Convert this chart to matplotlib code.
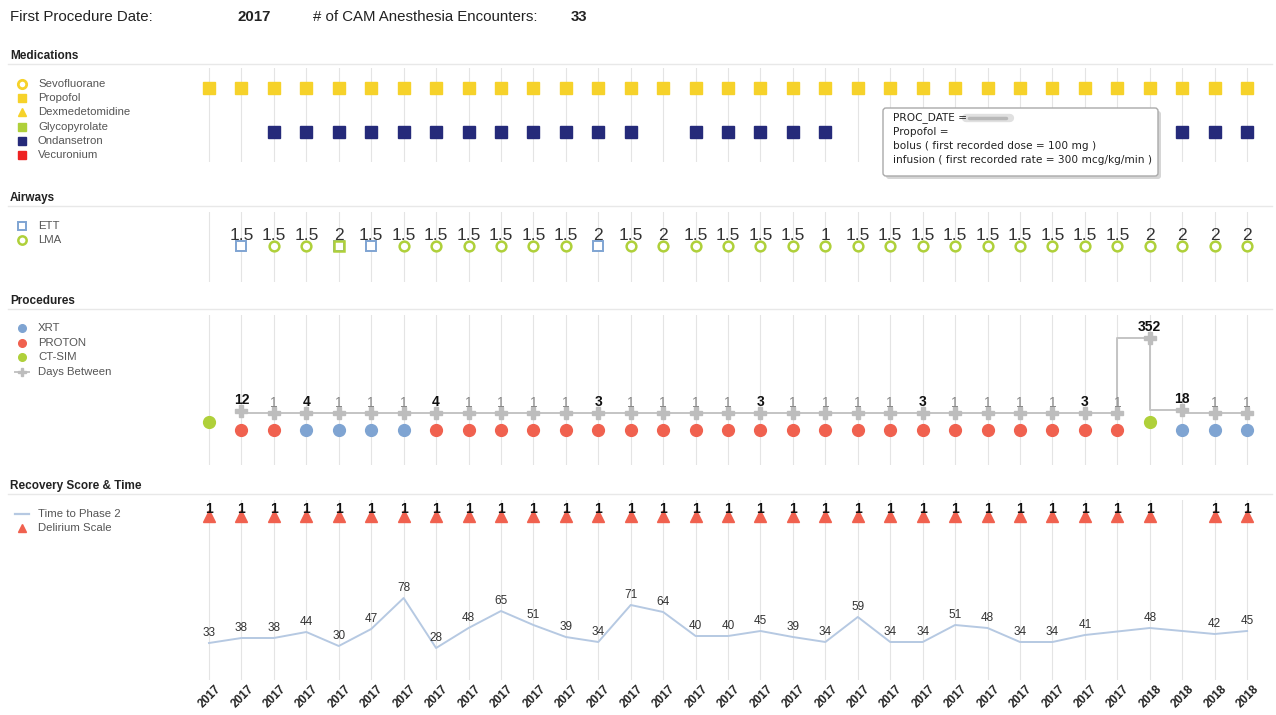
import matplotlib
matplotlib.use("Agg")
import matplotlib.pyplot as plt
from matplotlib.patches import FancyBboxPatch
from matplotlib.transforms import ScaledTranslation

plt.rcParams['font.family'] = ['Liberation Sans', 'DejaVu Sans']

# ---- data ----
years = ['2017'] * 29 + ['2018'] * 4
n = len(years)

propofol_cols = list(range(33))
ondansetron_cols = [2, 3, 4, 5, 6, 7, 8, 9, 10, 11, 12, 13, 15, 16, 17, 18, 19, 30, 31, 32]

airway_cols = list(range(1, 33))
airway_size = [1.5, 1.5, 1.5, 2, 1.5, 1.5, 1.5, 1.5, 1.5, 1.5, 1.5, 2, 1.5, 2, 1.5, 1.5,
               1.5, 1.5, 1, 1.5, 1.5, 1.5, 1.5, 1.5, 1.5, 1.5, 1.5, 1.5, 2, 2, 2, 2]
airway_type = ['ETT', 'LMA', 'LMA', 'ETT+LMA', 'ETT', 'LMA', 'LMA', 'LMA', 'LMA', 'LMA', 'LMA',
               'ETT', 'LMA', 'LMA', 'LMA', 'LMA', 'LMA', 'LMA', 'LMA', 'LMA', 'LMA', 'LMA',
               'LMA', 'LMA', 'LMA', 'LMA', 'LMA', 'LMA', 'LMA', 'LMA', 'LMA', 'LMA']

proc_type = ['CT-SIM', 'PROTON', 'PROTON', 'XRT', 'XRT', 'XRT', 'XRT'] + ['PROTON'] * 22 + \
            ['CT-SIM', 'XRT', 'XRT', 'XRT']
days_cols = list(range(1, 33))
days_between = [12, 1, 4, 1, 1, 1, 4, 1, 1, 1, 1, 3, 1, 1, 1, 1, 3, 1, 1, 1, 1, 3,
                1, 1, 1, 1, 3, 1, 352, 18, 1, 1]

phase2_time = [33, 38, 38, 44, 30, 47, 78, 28, 48, 65, 51, 39, 34, 71, 64, 40, 40, 45,
               39, 34, 59, 34, 34, 51, 48, 34, 34, 41, None, 48, None, 42, 45]
delirium = [1] * 30 + [None, 1, 1]

# ---- layout helpers ----
W, H = 1276, 715
fig = plt.figure(figsize=(W / 100, H / 100), dpi=100)
S = 32.44          # pixel spacing between encounters
X0 = 209           # pixel x of first encounter
PL, PR = 190, 1266
grid_c = '#e4e4e4'


def panel(top, bottom):
    ax = fig.add_axes([PL / W, 1 - bottom / H, (PR - PL) / W, (bottom - top) / H])
    ax.set_xlim((PL - X0) / S, (PR - X0) / S)
    ax.set_xticks(range(n))
    ax.set_yticks([])
    ax.grid(axis='x', color=grid_c, lw=0.8)
    ax.set_axisbelow(True)
    ax.tick_params(length=0, labelbottom=False)
    for s in ax.spines.values():
        s.set_visible(False)
    ax.patch.set_alpha(0)
    return ax


YELLOW = '#f6d22a'
NAVY = '#252a7a'
RED = '#f0614f'
BLUE = '#7fa4d2'
GREEN = '#afd03a'
GRAY = '#c4c4c4'

# ---- Medications ----
axm = panel(68, 162)
axm.set_ylim(6.05, -0.36)
axm.plot(propofol_cols, [1] * len(propofol_cols), 's', ms=8.5, color=YELLOW, ls='none')
axm.plot(ondansetron_cols, [4] * len(ondansetron_cols), 's', ms=8.5, color=NAVY, ls='none')

# ---- Airways ----
axa = panel(212, 282)
axa.set_ylim(-0.514, 0.486)
for c, sz, t in zip(airway_cols, airway_size, airway_type):
    if 'ETT' in t:
        axa.plot(c, 0, 's', ms=7, mfc='white', mec=BLUE, mew=1.4)
    if 'LMA' in t:
        mk = 's' if 'ETT' in t else 'o'
        axa.plot(c, 0, mk, ms=7, mfc='white' if mk == 'o' else 'none', mec=GREEN, mew=1.8)
    axa.annotate(f'{sz:g}', (c, 0), xytext=(0, 2), textcoords='offset points',
                 ha='center', va='bottom', fontsize=12.5, color='#333333')

# ---- Procedures ----
axp = panel(315, 465)
axp.set_ylim(-240, 459)
axp.plot(days_cols, days_between, drawstyle='steps-pre', color=GRAY, lw=1.4)
axp.plot(days_cols, days_between, 'P', ms=8, color='#bdbdbd', ls='none')
for c, d in zip(days_cols, days_between):
    bold = d > 1
    axp.annotate(str(d), (c, d), xytext=(0, 2.5), textcoords='offset points', ha='center',
                 va='bottom', fontsize=10, fontweight='bold' if bold else 'normal',
                 color='#111111' if bold else '#888888')
axd = axp.twinx()
axd.set_ylim(-4.375, 14.375)
axd.set_yticks([])
for s in axd.spines.values():
    s.set_visible(False)
proc_color = {'XRT': BLUE, 'PROTON': RED, 'CT-SIM': GREEN}
proc_level = {'XRT': 0, 'PROTON': 0, 'CT-SIM': 1}
for i, p in enumerate(proc_type):
    axd.plot(i, proc_level[p], 'o', ms=8.5, color=proc_color[p])

# ---- Recovery score & time ----
axt = panel(500, 540)
axt.set_ylim(-0.6, 0.4)
for i, v in enumerate(delirium):
    if v is None:
        continue
    axt.plot(i, 0, '^', ms=8.5, color=RED)
    axt.annotate(str(v), (i, 0), xytext=(0, 0), textcoords='offset points', ha='center',
                 va='bottom', fontsize=10, fontweight='bold', color='#111111')

axl = panel(540, 680)
axl.set_ylim(-4, 136)
px = [i for i, v in enumerate(phase2_time) if v is not None]
py = [v for v in phase2_time if v is not None]
axl.plot(px, py, color='#b6c9e2', lw=1.4)
for x, y in zip(px, py):
    axl.annotate(str(y), (x, y), xytext=(0, 3), textcoords='offset points', ha='center',
                 va='bottom', fontsize=8.5, color='#333333')
axl.tick_params(labelbottom=True, pad=2)
axl.set_xticklabels(years, rotation=45, ha='right', rotation_mode='anchor',
                    fontsize=8.5, fontweight='bold', color='#222222')
for lab in axl.get_xticklabels():
    lab.set_transform(lab.get_transform() + ScaledTranslation(6 / 100, 0, fig.dpi_scale_trans))

# ---- overlay: header, section titles, legends, tooltip ----
ov = fig.add_axes([0, 0, 1, 1], zorder=10)
ov.set_xlim(0, W)
ov.set_ylim(H, 0)
ov.axis('off')
ov.patch.set_visible(False)

ov.text(10, 17, 'First Procedure Date:', fontsize=10.8, va='center', color='#222222')
ov.text(238, 17, '2017', fontsize=10.8, va='center', fontweight='bold', color='#222222')
ov.text(313, 17, '# of CAM Anesthesia Encounters:', fontsize=10.8, va='center', color='#222222')
ov.text(571, 17, '33', fontsize=10.8, va='center', fontweight='bold', color='#222222')

for title, y in [('Medications', 56), ('Airways', 198), ('Procedures', 301),
                 ('Recovery Score & Time', 486)]:
    ov.text(10, y, title, fontsize=8.5, fontweight='bold', va='center', color='#222222')
    ov.plot([8, 1272], [y + 8, y + 8], color='#e8e8e8', lw=1)


def legend_row(y, label, marker, **kw):
    ov.plot(22, y, marker, ls='none', **kw)
    ov.text(38, y, label, fontsize=8.2, va='center', color='#555555')


legend_row(84, 'Sevofluorane', 'o', ms=6, mfc='white', mec=YELLOW, mew=2)
legend_row(98, 'Propofol', 's', ms=5.5, color=YELLOW)
legend_row(112, 'Dexmedetomidine', '^', ms=5.5, color=YELLOW)
legend_row(127, 'Glycopyrolate', 's', ms=5.5, color=GREEN)
legend_row(141, 'Ondansetron', 's', ms=5.5, color=NAVY)
legend_row(155, 'Vecuronium', 's', ms=5.5, color='#ee2222')

legend_row(226, 'ETT', 's', ms=6, mfc='white', mec=BLUE, mew=1.4)
legend_row(240, 'LMA', 'o', ms=6, mfc='white', mec=GREEN, mew=1.8)

legend_row(328, 'XRT', 'o', ms=5.5, color=BLUE)
legend_row(343, 'PROTON', 'o', ms=5.5, color=RED)
legend_row(357, 'CT-SIM', 'o', ms=5.5, color=GREEN)
ov.plot([15, 29], [372, 372], color=GRAY, lw=1.4)
legend_row(372, 'Days Between', 'P', ms=6, color='#bdbdbd')

ov.plot([15, 29], [514, 514], color='#b6c9e2', lw=1.6)
ov.text(38, 514, 'Time to Phase 2', fontsize=8.2, va='center', color='#555555')
legend_row(528, 'Delirium Scale', '^', ms=5.5, color=RED)

# tooltip
ov.add_patch(FancyBboxPatch((886, 111), 275, 68, boxstyle='round,pad=0,rounding_size=3',
                            fc='#bbbbbb', ec='none', alpha=0.6))
ov.add_patch(FancyBboxPatch((883, 108), 275, 68, boxstyle='round,pad=0,rounding_size=3',
                            fc='white', ec='#aaaaaa', lw=1))
tip = ['PROC_DATE = ', 'Propofol =', 'bolus ( first recorded dose = 100 mg )',
       'infusion ( first recorded rate = 300 mcg/kg/min )']
for k, line in enumerate(tip):
    ov.text(893, 118 + 14 * k, line, fontsize=7.6, family='DejaVu Sans', va='center',
            color='#222222')
ov.plot([966, 1010], [118, 118], color='#999999', lw=6, alpha=0.3, solid_capstyle='round')
ov.plot([969, 1006], [118, 118], color='#888888', lw=2.5, alpha=0.45, solid_capstyle='round')

fig.savefig('out.png', dpi=100, facecolor='white')
